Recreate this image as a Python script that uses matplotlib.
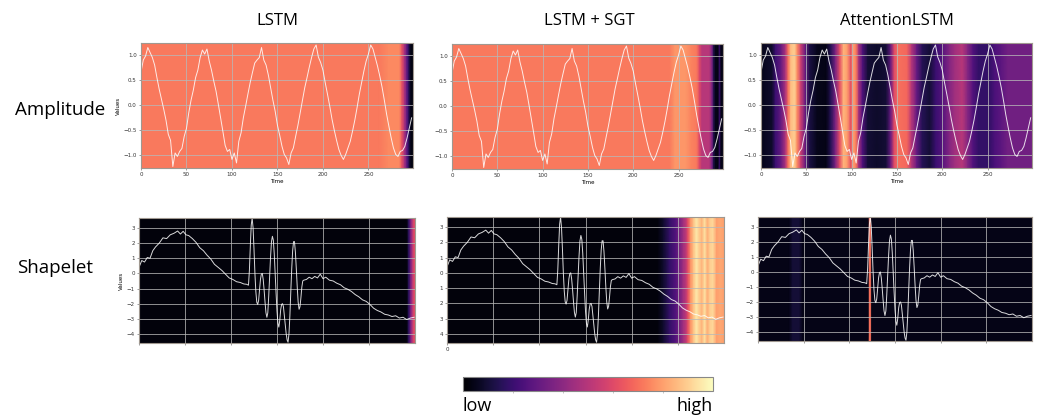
import numpy as np
import matplotlib
matplotlib.use("Agg")
import matplotlib.pyplot as plt
from matplotlib.cm import ScalarMappable
from matplotlib.colors import Normalize

# -------------------------------
# Data
# -------------------------------
models = ["LSTM", "LSTM + SGT", "AttentionLSTM"]
rows = ["Amplitude", "Shapelet"]

# amplitude series, sampled every 2.5 steps
amp_time = np.arange(0, 300, 2.5)
amp_vals = [0.66, 0.90, 0.98, 1.15, 1.05, 0.95, 0.80, 0.55, 0.32, 0.12,
            -0.08, -0.30, -0.58, -0.70, -1.22, -0.95, -1.02, -0.92, -0.86, -0.62,
            -0.46, -0.15, 0.10, 0.30, 0.55, 0.70, 0.95, 1.10, 1.02, 1.12,
            0.88, 0.70, 0.48, 0.28, 0.02, -0.25, -0.52, -0.80, -0.92, -0.88,
            -1.08, -0.95, -1.15, -0.72, -0.55, -0.25, -0.02, 0.22, 0.45, 0.65,
            0.84, 0.90, 0.95, 1.15, 0.90, 0.80, 0.60, 0.35, 0.10, -0.12,
            -0.40, -0.60, -0.82, -0.98, -1.05, -1.18, -0.95, -0.85, -0.62, -0.40,
            -0.15, 0.10, 0.35, 0.55, 0.76, 0.95, 1.12, 1.20, 0.96, 0.85,
            0.70, 0.45, 0.22, -0.02, -0.28, -0.50, -0.70, -0.88, -1.00, -1.08,
            -0.98, -0.85, -0.72, -0.52, -0.30, -0.05, 0.22, 0.45, 0.68, 0.88,
            1.02, 1.20, 1.12, 0.95, 0.78, 0.58, 0.36, 0.10, -0.18, -0.42,
            -0.65, -0.85, -0.98, -1.02, -0.92, -0.90, -0.82, -0.65, -0.45, -0.25]

# shapelet series
shp_time = ([0, 3, 6, 9, 12, 15, 18, 22, 26, 30,
             34, 38, 42, 45, 48, 51, 54, 58, 62, 66,
             70, 74, 78, 82, 86, 90, 94, 98, 102, 106,
             110, 114, 117]
            + list(range(119, 180))
            + [182, 185, 188, 191, 194, 197, 200, 203, 207, 211,
               215, 219, 223, 227, 231, 235, 239, 243, 247, 251,
               255, 259, 263, 267, 271, 275, 279, 283, 287, 291,
               295, 299])
shp_vals = ([0.40, 0.85, 0.75, 1.05, 1.00, 1.50, 1.75, 2.00, 2.35, 2.30,
             2.55, 2.65, 2.80, 2.60, 2.78, 2.55, 2.50, 2.30, 2.05, 1.70,
             1.50, 1.20, 0.95, 0.60, 0.40, 0.20, -0.05, -0.30, -0.40, -0.55,
             -0.60, -0.70, -0.72]
            # burst, t = 119..179
            + [-0.78, 0.20, 1.80, 3.20, 3.65, 3.00, 1.60, 0.00, -1.20, -1.90,
               -2.05, -1.80, -1.10, -0.40, -0.05, 0.00, -0.40, -1.10, -1.90, -2.60,
               -2.90, -2.60, -1.50, -0.20, 1.10, 2.10, 2.45, 2.20, 1.30, 0.00,
               -1.30, -2.50, -3.30, -3.55, -3.10, -2.40, -2.05, -2.00, -2.20, -2.80,
               -3.40, -4.00, -4.40, -4.55, -4.00, -2.80, -1.20, 0.30, 1.50, 2.10,
               2.10, 1.40, 0.30, -0.90, -1.90, -2.37, -2.20, -1.60, -0.90, -0.50,
               -0.45]
            + [-0.40, -0.25, -0.35, -0.20, -0.30, -0.05, -0.35, -0.25, -0.45, -0.50,
               -0.65, -0.75, -0.95, -1.05, -1.20, -1.40, -1.55, -1.75, -1.85, -2.05,
               -2.30, -2.45, -2.55, -2.70, -2.75, -2.85, -2.80, -2.95, -2.90, -3.05,
               -2.95, -2.90])

# attention weights (knots, normalised 0..1)
lstm_amp_t = [0, 262, 272, 284, 287, 290, 292, 294, 296, 298, 299]
lstm_amp_w = [0.72, 0.72, 0.75, 0.75, 0.62, 0.45, 0.32, 0.18, 0.06, 0.03, 0.03]

sgt_amp_t = [0, 240, 246, 258, 264, 270, 273, 276, 284, 287, 289, 291, 294, 295, 297, 299]
sgt_amp_w = [0.72, 0.72, 0.78, 0.78, 0.74, 0.72, 0.60, 0.50, 0.50, 0.35, 0.12, 0.04, 0.04, 0.20, 0.04, 0.04]

att_amp_t = [0, 4, 12, 16, 22, 27, 30, 33, 37, 40,
             44, 49, 54, 62, 72, 77, 82, 87, 91, 95,
             99, 102, 105, 108, 112, 118, 128, 138, 143, 147,
             151, 161, 166, 172, 178, 186, 193, 200, 208, 214,
             222, 228, 234, 240, 252, 258, 265, 272, 299]
att_amp_w = [0.04, 0.06, 0.08, 0.20, 0.30, 0.48, 0.70, 0.86, 0.90, 0.76,
             0.55, 0.30, 0.12, 0.05, 0.04, 0.15, 0.35, 0.62, 0.84, 0.80,
             0.62, 0.80, 0.72, 0.45, 0.25, 0.10, 0.08, 0.10, 0.30, 0.60,
             0.70, 0.68, 0.50, 0.30, 0.15, 0.10, 0.20, 0.26, 0.38, 0.45,
             0.50, 0.38, 0.25, 0.18, 0.18, 0.24, 0.28, 0.33, 0.33]

lstm_shp_t = [0, 291, 293, 295, 297, 299, 300]
lstm_shp_w = [0.02, 0.02, 0.15, 0.32, 0.48, 0.60, 0.62]

sgt_shp_t = [0, 228, 234, 241, 248, 252, 256, 259, 261, 264,
             267, 270, 273, 276, 279, 282, 285, 288, 292, 296, 300]
sgt_shp_w = [0.02, 0.02, 0.08, 0.18, 0.26, 0.35, 0.45, 0.52, 0.62, 0.78,
             0.87, 0.95, 0.90, 0.84, 0.94, 0.83, 0.90, 0.92, 0.80, 0.82, 0.80]

att_shp_t = [0, 34, 38, 45, 49, 121, 122, 123.5, 124.5, 300]
att_shp_w = [0.04, 0.04, 0.10, 0.10, 0.04, 0.04, 0.70, 0.70, 0.04, 0.04]

amp_weights = [(lstm_amp_t, lstm_amp_w), (sgt_amp_t, sgt_amp_w), (att_amp_t, att_amp_w)]
shp_weights = [(lstm_shp_t, lstm_shp_w), (sgt_shp_t, sgt_shp_w), (att_shp_t, att_shp_w)]

# -------------------------------
# Layout (pixel boxes: left, top, right, bottom)
# -------------------------------
W, H = 1038, 416
top_boxes = [(141, 43, 413, 168), (452, 44, 723, 169), (761, 43, 1032, 168)]
bot_boxes = [(139, 218, 415, 343), (447, 217, 724, 343), (758, 217, 1032, 341)]


def px_axes(fig, box):
    l, t, r, b = box
    return fig.add_axes([l / W, (H - b) / H, (r - l) / W, (b - t) / H])


def draw_weights(ax, t, w, ylo, yhi):
    t = np.asarray(t, float)
    w = np.asarray(w, float)
    X = np.vstack([t, t])
    Y = np.vstack([np.full_like(t, ylo), np.full_like(t, yhi)])
    C = np.vstack([w, w])
    ax.pcolormesh(X, Y, C, shading="gouraud", cmap="magma", vmin=0, vmax=1)


def style(ax):
    ax.set_axisbelow("line")
    ax.grid(True, color="#b8b8b8", lw=0.6, alpha=0.9)
    ax.tick_params(labelsize=4, length=1.5, width=0.4, pad=1.5,
                   colors="#555555", labelcolor="#333333")
    for s in ax.spines.values():
        s.set_color("#a09890")
        s.set_linewidth(0.8)


fig = plt.figure(figsize=(W / 100, H / 100), dpi=100)

# top row: amplitude
for i, box in enumerate(top_boxes):
    ax = px_axes(fig, box)
    ylo, yhi = -1.25, 1.24
    t, w = amp_weights[i]
    draw_weights(ax, t, w, ylo, yhi)
    ax.plot(amp_time, amp_vals, color="white", lw=0.7, alpha=0.85)
    ax.set_xlim(0, 299)
    ax.set_ylim(ylo, yhi)
    ax.set_xticks([0, 50, 100, 150, 200, 250])
    ax.set_yticks([-1.0, -0.5, 0.0, 0.5, 1.0])
    ax.set_xlabel("Time", fontsize=4, labelpad=1)
    if i == 0:
        ax.set_ylabel("Values", fontsize=4, labelpad=2)
    style(ax)

# bottom row: shapelet
for i, box in enumerate(bot_boxes):
    ax = px_axes(fig, box)
    ylo, yhi = -4.6, 3.66
    t, w = shp_weights[i]
    draw_weights(ax, t, w, ylo, yhi)
    ax.plot(shp_time, shp_vals, color="white", lw=0.7, alpha=0.85)
    ax.set_xlim(0, 300)
    ax.set_ylim(ylo, yhi)
    ax.set_xticks([0, 50, 100, 150, 200, 250])
    ax.set_yticks([3, 2, 1, 0, -1, -2, -3, -4])
    if i == 1:
        ax.set_xticklabels(["0", "", "", "", "", ""])
        ax.set_yticklabels(["3", "2", "1", "0", "1", "2", "3", "4"])
    else:
        ax.set_xticklabels([])
    if i == 0:
        ax.set_ylabel("Values", fontsize=4, labelpad=2)
    style(ax)

# titles and row labels
title_x = [277, 589, 897]
for name, x in zip(models, title_x):
    fig.text(x / W, 1 - 21 / H, name, ha="center", va="center",
             fontsize=12, family="Open Sans")
fig.text(15 / W, 1 - 110 / H, rows[0], ha="left", va="center", fontsize=13.5, family="Open Sans")
fig.text(17 / W, 1 - 268 / H, rows[1], ha="left", va="center", fontsize=13.5, family="Open Sans")

# colorbar
cax = px_axes(fig, (463, 377, 713, 391))
cb = fig.colorbar(ScalarMappable(norm=Normalize(0, 1), cmap="magma"), cax=cax,
                  orientation="horizontal")
cb.set_ticks([0.2, 0.4, 0.6, 0.8])
cb.ax.tick_params(length=1.5, width=0.4, colors="#999999", labelbottom=False)
cb.outline.set_edgecolor("#888888")
cb.outline.set_linewidth(0.8)
fig.text(463 / W, 1 - 406 / H, "low", ha="left", va="center", fontsize=13, family="Open Sans")
fig.text(713 / W, 1 - 406 / H, "high", ha="right", va="center", fontsize=13, family="Open Sans")

fig.savefig("out.png", dpi=100)
